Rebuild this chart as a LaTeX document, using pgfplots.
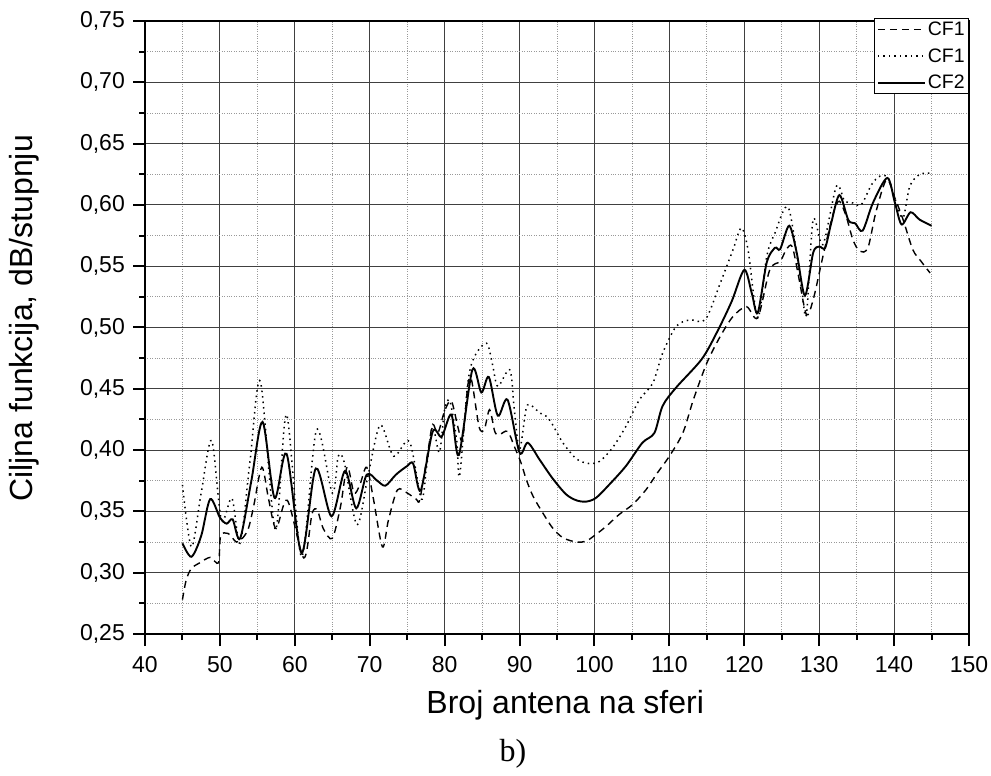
\documentclass[border=0pt]{standalone}
\usepackage{fontspec}
\setmainfont{Liberation Sans}
\newfontfamily\timesfont{Liberation Serif}
\usepackage{pgfplots}
\pgfplotsset{compat=1.18}
\begin{document}
\begin{tikzpicture}
\begin{axis}[
  at={(0pt,0pt)}, anchor=south west,
  scale only axis, width=824pt, height=613pt,
  xmin=40, xmax=150, ymin=0.25, ymax=0.75,
  xtick={40,50,60,70,80,90,100,110,120,130,140,150},
  xticklabels={40,50,60,70,80,90,100,110,120,130,140,150},
  ytick={0.25,0.30,0.35,0.40,0.45,0.50,0.55,0.60,0.65,0.70,0.75},
  yticklabels={{0,25},{0,30},{0,35},{0,40},{0,45},{0,50},{0,55},{0,60},{0,65},{0,70},{0,75}},
  minor xtick={45,55,65,75,85,95,105,115,125,135,145},
  minor ytick={0.275,0.325,0.375,0.425,0.475,0.525,0.575,0.625,0.675,0.725},
  grid=both,
  major grid style={black!75, line width=0.9pt},
  minor grid style={gray!80, dotted, line width=0.7pt},
  axis line style={line width=2pt},
  every tick/.style={black, line width=2pt},
  major tick length=12pt, minor tick length=6pt,
  tick align=outside,
  xtick pos=left, ytick pos=left,
  every tick label/.append style={font=\fontsize{23}{27}\selectfont},
  xticklabel style={inner sep=0pt, yshift=-10pt},
  yticklabel style={inner sep=0pt, xshift=-8pt},
  xlabel={Broj antena na sferi},
  ylabel={Ciljna funkcija, dB/stupnju},
  label style={font=\fontsize{32}{38}\selectfont},
  xlabel style={at={(axis description cs:0.51,-0.129)}, anchor=base},
  ylabel style={at={(axis description cs:-0.137,0.515)}, anchor=base},
  legend style={at={(rel axis cs:1,1.005)}, anchor=north east, draw=black, line width=0.8pt,
    font=\fontsize{19.5}{23}\selectfont, inner xsep=2pt, inner ysep=2pt,
    nodes={inner xsep=2pt, inner ysep=1.5pt}, row sep=8.5pt},
  legend cell align=left,
  legend image code/.code={\draw[#1] (0pt,0pt) -- (47pt,0pt);},
]
\coordinate (SW) at (rel axis cs:0,0);
\addplot[black, line width=1.4pt, dash pattern=on 7pt off 5pt, smooth] coordinates {
(45,0.278) (45.5,0.294) (46.2,0.3035) (47.3,0.308) (48.7,0.3125) (49.8,0.308)
(50.1,0.330) (51.1,0.332) (52.2,0.325) (53.0,0.328) (53.8,0.336) (54.5,0.354)
(55.6,0.386) (56.5,0.360) (57.5,0.336) (59.0,0.359) (61.2,0.312) (62.3,0.348)
(63.0,0.351) (63.8,0.336) (65.0,0.328) (66.1,0.354) (67.0,0.3865) (67.9,0.365)
(68.7,0.372) (69.6,0.386) (70.5,0.360) (71.7,0.321) (72.5,0.343) (73.7,0.3675)
(75.0,0.365) (76.2,0.360) (76.7,0.360) (77.8,0.400) (78.4,0.421) (79.1,0.414)
(80.0,0.432) (80.9,0.440) (81.8,0.418) (82.4,0.4085) (83.1,0.453) (83.6,0.457)
(84.6,0.419) (85.3,0.417) (86.0,0.433) (86.7,0.415) (87.3,0.4126) (88.4,0.4153)
(89.3,0.403) (90.2,0.3896) (90.9,0.376) (91.8,0.3624) (93.1,0.3488) (94.4,0.3366)
(95.8,0.3285) (97.6,0.325) (98.9,0.3258) (100.2,0.3312) (101.6,0.338) (103.3,0.3475)
(105.1,0.3556) (106.9,0.3678) (108.4,0.3814) (110.0,0.395) (111.8,0.414) (113.2,0.441)
(115.0,0.471) (116.8,0.4928) (118.5,0.509) (120.3,0.517) (121.8,0.508) (123.4,0.547)
(124.8,0.554) (125.6,0.5635) (126.4,0.566) (127.3,0.540) (128.3,0.5105) (129.2,0.5227)
(130.5,0.558) (131.9,0.5935) (132.7,0.603) (133.6,0.5907) (134.5,0.5717) (135.4,0.5622)
(136.5,0.565) (137.6,0.5948) (139.0,0.6207) (140.1,0.6057) (141.2,0.588) (142.5,0.5635)
(143.6,0.554) (144.8,0.5445)
};
\addlegendentry{CF1}
\addplot[black, line width=1.5pt, dash pattern=on 1.5pt off 4pt, smooth] coordinates {
(45,0.3716) (46.2,0.321) (47.5,0.365) (48.9,0.408) (50.2,0.343) (51.6,0.3607)
(52.7,0.324) (54.0,0.390) (55.4,0.456) (57.4,0.335) (58.9,0.429) (60.9,0.313)
(62.9,0.4165) (65.0,0.365) (65.8,0.395) (66.6,0.390) (68.3,0.339) (69.8,0.380)
(71.4,0.4205) (73.2,0.395) (75.3,0.407) (76.9,0.360) (77.6,0.387) (78.4,0.419)
(79.3,0.398) (80.0,0.433) (80.7,0.440) (81.6,0.4085) (82.0,0.379) (83.1,0.4547)
(84.0,0.4764) (85.6,0.4872) (86.4,0.4696) (87.1,0.452) (88.7,0.4655) (89.3,0.433)
(90.0,0.4004) (90.9,0.4343) (91.6,0.4362) (92.7,0.4303) (93.6,0.4275) (94.4,0.4208)
(95.8,0.4058) (97.6,0.3928) (99.3,0.389) (100.7,0.3909) (102.4,0.4018) (104.2,0.4194)
(106.0,0.4411) (107.8,0.4547) (109.1,0.4791) (110.9,0.5008) (112.7,0.5062) (114.8,0.5064)
(116.8,0.5363) (118.5,0.5635) (119.6,0.5812) (120.5,0.5635) (121.8,0.5078) (123.0,0.558)
(124.1,0.5771) (125.9,0.5976) (127.6,0.5336) (128.3,0.5105) (129.2,0.588) (130.5,0.5676)
(132.3,0.6152) (133.4,0.603) (134.5,0.6016) (135.6,0.600) (137.0,0.6166) (138.1,0.6234)
(139.2,0.622) (140.3,0.6016) (141.2,0.5894) (142.1,0.6152) (143.4,0.6248) (145.0,0.626)
};
\addlegendentry{CF1}
\addplot[black, line width=1.9pt, smooth] coordinates {
(45,0.324) (46.2,0.313) (47.5,0.330) (48.7,0.360) (50.0,0.345) (50.9,0.340)
(51.7,0.3435) (52.7,0.328) (54.2,0.375) (55.7,0.423) (57.3,0.361) (58.9,0.397)
(60.9,0.316) (62.8,0.385) (64.9,0.346) (66.7,0.383) (68.2,0.3525) (69.6,0.380)
(71.0,0.375) (72.1,0.371) (73.5,0.380) (75.0,0.387) (75.8,0.389) (76.8,0.367)
(78.4,0.415) (79.6,0.411) (80.9,0.429) (81.9,0.396) (83.7,0.4655) (84.9,0.447)
(85.9,0.4596) (87.1,0.428) (88.4,0.441) (90.0,0.398) (91.1,0.406) (92.7,0.392)
(94.4,0.377) (96.2,0.364) (97.6,0.359) (98.9,0.358) (100.2,0.361) (102.0,0.372)
(104.2,0.387) (106.4,0.406) (108.0,0.414) (109.1,0.436) (110.9,0.451) (114.3,0.474)
(116.3,0.4955) (118.3,0.521) (120.0,0.547) (121.0,0.528) (121.8,0.512) (123.0,0.553)
(124.1,0.565) (124.8,0.564) (126.0,0.583) (127.0,0.561) (128.1,0.526) (129.2,0.561)
(130.0,0.566) (130.8,0.565) (131.6,0.585) (132.7,0.608) (133.9,0.5875) (134.8,0.585)
(135.8,0.579) (137.2,0.602) (139.1,0.622) (140.1,0.602) (141.0,0.584) (142.2,0.594)
(143.4,0.588) (145.0,0.583)
};
\addlegendentry{CF2}
\end{axis}
\node[anchor=base, font=\timesfont\fontsize{32}{38}\selectfont] at ([xshift=368pt,yshift=-128pt]SW) {b)};
\path ([xshift=-145pt,yshift=-142pt]SW) rectangle ([xshift=846pt,yshift=634pt]SW);
\end{tikzpicture}
\end{document}
